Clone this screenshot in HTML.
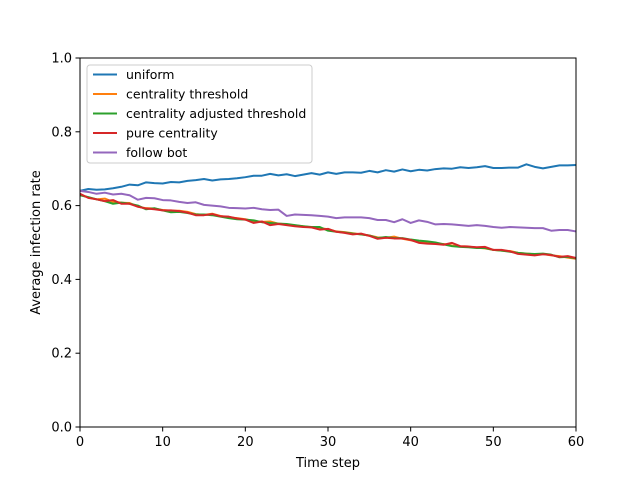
<!DOCTYPE html>
<html><head><meta charset="utf-8"><style>
body{margin:0;background:#fff}
svg{display:block;font-family:"DejaVu Sans","Liberation Sans",sans-serif}
</style></head><body>
<svg id="chart" width="640" height="480"></svg>
<script>
const uniform=[0.640,0.645,0.643,0.644,0.647,0.651,0.657,0.655,0.663,0.661,0.660,0.664,0.663,0.667,0.669,0.672,0.668,0.671,0.672,0.674,0.677,0.681,0.681,0.686,0.682,0.685,0.680,0.684,0.688,0.684,0.690,0.686,0.690,0.690,0.689,0.694,0.690,0.696,0.692,0.698,0.693,0.697,0.695,0.699,0.701,0.700,0.704,0.702,0.704,0.707,0.702,0.702,0.703,0.703,0.712,0.705,0.701,0.705,0.709,0.709,0.710];
const centThresh=[0.630,0.622,0.617,0.619,0.610,0.608,0.607,0.597,0.593,0.592,0.588,0.586,0.586,0.583,0.577,0.575,0.578,0.572,0.568,0.566,0.563,0.558,0.556,0.557,0.551,0.549,0.546,0.544,0.541,0.539,0.536,0.530,0.528,0.525,0.522,0.519,0.514,0.513,0.516,0.510,0.506,0.502,0.500,0.497,0.496,0.492,0.490,0.489,0.486,0.484,0.480,0.478,0.477,0.472,0.470,0.468,0.469,0.465,0.463,0.459,0.456];
const centAdj=[0.628,0.623,0.617,0.612,0.605,0.608,0.605,0.600,0.590,0.593,0.587,0.582,0.583,0.580,0.576,0.576,0.574,0.570,0.566,0.563,0.562,0.560,0.555,0.553,0.551,0.550,0.547,0.544,0.542,0.542,0.532,0.529,0.527,0.524,0.522,0.519,0.512,0.515,0.512,0.512,0.508,0.505,0.503,0.500,0.495,0.490,0.488,0.487,0.485,0.485,0.480,0.478,0.475,0.472,0.470,0.469,0.470,0.467,0.460,0.461,0.457];
const pureCent=[0.632,0.621,0.617,0.612,0.615,0.605,0.605,0.597,0.592,0.590,0.587,0.587,0.585,0.581,0.574,0.574,0.577,0.571,0.570,0.565,0.562,0.553,0.557,0.547,0.550,0.547,0.544,0.542,0.541,0.535,0.537,0.529,0.526,0.522,0.524,0.518,0.510,0.513,0.511,0.511,0.507,0.499,0.497,0.496,0.494,0.499,0.490,0.489,0.487,0.488,0.480,0.480,0.476,0.469,0.467,0.465,0.468,0.466,0.461,0.463,0.458];
const followBot=[0.640,0.637,0.632,0.635,0.630,0.632,0.628,0.616,0.621,0.620,0.615,0.614,0.610,0.607,0.609,0.602,0.600,0.598,0.594,0.593,0.592,0.594,0.590,0.588,0.589,0.572,0.576,0.575,0.574,0.572,0.570,0.566,0.568,0.568,0.568,0.566,0.561,0.561,0.555,0.563,0.553,0.560,0.556,0.549,0.550,0.549,0.547,0.545,0.547,0.545,0.542,0.540,0.542,0.541,0.540,0.539,0.539,0.532,0.534,0.534,0.530];
const seriesNames=["uniform","centrality threshold","centrality adjusted threshold","pure centrality","follow bot"];
const colors=["#1f77b4","#ff7f0e","#2ca02c","#d62728","#9467bd"];
const xTicks=[0,10,20,30,40,50,60];
const yTicks=[0.0,0.2,0.4,0.6,0.8,1.0];
const L=80,R=576,T=58,B=427;
const xs=v=>L+(v/60)*(R-L);
const ys=v=>B-v*(B-T);
const svg=document.getElementById('chart');
const NS='http://www.w3.org/2000/svg';
function mk(tag,attrs,parent){const e=document.createElementNS(NS,tag);for(const k in attrs)e.setAttribute(k,attrs[k]);(parent||svg).appendChild(e);return e;}
const data=[uniform,centThresh,centAdj,pureCent,followBot];
data.forEach((arr,i)=>{
  const p=mk('polyline',{points:arr.map((v,j)=>xs(j)+','+ys(v)).join(' '),fill:'none',stroke:colors[i],'stroke-width':2,'stroke-linejoin':'round'});
  
  
});
const frame=mk('rect',{x:L,y:T,width:R-L,height:B-T,fill:'none',stroke:'#000','stroke-width':1});


xTicks.forEach(t=>{
  mk('line',{x1:xs(t),x2:xs(t),y1:B,y2:B+4.5,stroke:'#000','stroke-width':1});
  const tx=mk('text',{x:xs(t),y:B+19,'text-anchor':'middle','font-size':13});
  tx.textContent=t;
  
  
});
yTicks.forEach(t=>{
  mk('line',{x1:L-4.5,x2:L,y1:ys(t),y2:ys(t),stroke:'#000','stroke-width':1});
  const tx=mk('text',{x:L-8,y:ys(t)+4.5,'text-anchor':'end','font-size':13});
  tx.textContent=t.toFixed(1);
  
  
});
const xt=mk('text',{x:(L+R)/2,y:467,'text-anchor':'middle','font-size':13});
xt.textContent='Time step';


const yt=mk('text',{x:0,y:0,'text-anchor':'middle','font-size':13,transform:'translate(40,'+((T+B)/2)+') rotate(-90)'});
yt.textContent='Average infection rate';


const lg=mk('g',{});


mk('rect',{x:87,y:65,width:225,height:98,rx:3,fill:'#fff',stroke:'#ccc','stroke-width':1,'fill-opacity':0.8},lg);
seriesNames.forEach((n,i)=>{
  const y=74.5+i*19.5;
  mk('line',{x1:93,x2:117,y1:y,y2:y,stroke:colors[i],'stroke-width':2},lg);
  const t=mk('text',{x:126,y:y+4.5,'font-size':12.5},lg);
  t.textContent=n;
  
  
});
</script>
</body></html>
